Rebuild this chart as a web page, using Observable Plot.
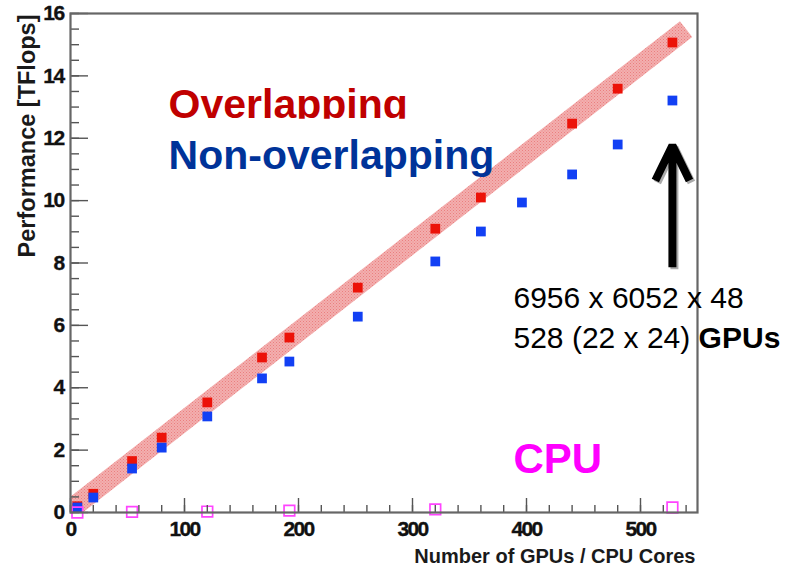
<!DOCTYPE html>
<html><head><meta charset="utf-8">
<script src="https://cdn.jsdelivr.net/npm/d3@7"></script>
<script src="https://cdn.jsdelivr.net/npm/@observablehq/plot@0.6"></script>
<style>
html,body{margin:0;padding:0;background:#fff;}
#chart{width:798px;height:570px;overflow:hidden;}
</style></head><body><div id="chart"></div>
<script>
// ---- data ----
const gpuCounts       = [6, 20, 54, 80, 120, 168, 192, 252, 320, 360, 440, 480, 528];
const overlapping     = [0.2, 0.6, 1.65, 2.4, 3.53, 4.97, 5.61, 7.21, 9.1, 10.1, 12.47, 13.59, 15.07];
const nonOverlapCounts = [6, 20, 54, 80, 120, 168, 192, 252, 320, 360, 396, 440, 480, 528];
const nonOverlapping  = [0.16, 0.48, 1.41, 2.08, 3.08, 4.3, 4.84, 6.28, 8.05, 9.01, 9.94, 10.84, 11.8, 13.21];
const cpuCores        = [6, 54, 120, 192, 320, 528];
const cpuPerf         = [0, 0.02, 0.03, 0.06, 0.1, 0.16];
const idealX          = [0, 540];
const idealY          = [0.1, 15.5];
const xTicks          = [0, 100, 200, 300, 400, 500];
const xMinorTicks     = d3.range(0, 551, 20);
const yTicks          = [0, 2, 4, 6, 8, 10, 12, 14, 16];
const yMinorTicks     = d3.range(0, 16.01, 0.5);
const xTitle = "Number of GPUs / CPU Cores";
const yTitle = "Performance [TFlops]";
const noteText = ["Overlapping", "Non-overlapping", "6956 x 6052 x 48", "528 (22 x 24)", "CPU"];
const noteX    = [86, 86, 388.6, 388.6, 388.6];
const noteY    = [12.66, 11.03, 6.57, 5.29, 1.28];
const arrowX = 528, arrowFrom = 7.86, arrowTo = 11.77;

const ovData = gpuCounts.map((x, i) => ({x, y: overlapping[i]}));
const noData = nonOverlapCounts.map((x, i) => ({x, y: nonOverlapping[i]}));
const cpuData = cpuCores.map((x, i) => ({x, y: cpuPerf[i]}));
const ideal = idealX.map((x, i) => ({x, y: idealY[i]}));
const notes = noteText.map((t, i) => ({t, x: noteX[i], y: noteY[i]}));
const arrows = [{x: arrowX, y1: arrowFrom, y2: arrowTo}];

const F = "'Liberation Sans', Arial, Helvetica, sans-serif";

const note = (i, opts) => Plot.text([notes[i]], {x: "x", y: "y", text: "t", textAnchor: "start", lineAnchor: "bottom", fontFamily: F, ...opts});

const chart = Plot.plot({
  width: 798, height: 570,
  marginLeft: 70, marginRight: 101, marginTop: 13, marginBottom: 58,
  x: {domain: [0, 550]},
  y: {domain: [0, 16]},
  style: {fontFamily: F, background: "#fff", overflow: "visible"},
  marks: [
    Plot.line(ideal, {x: "x", y: "y", stroke: "url(#hatch)", strokeWidth: 20, strokeLinecap: "butt", clip: true}),
    Plot.dot(ovData, {x: "x", y: "y", symbol: "square", r: 5.5, fill: "#ec1208"}),
    Plot.dot(noData, {x: "x", y: "y", symbol: "square", r: 5.5, fill: "#1240f4"}),
    Plot.dot(cpuData, {x: "x", y: "y", symbol: "square", r: 6, fill: "none", stroke: "#ff44ff", strokeWidth: 1.7}),
    // ticks (inward)
    Plot.axisX(xMinorTicks, {tickSize: -7, fill: "none", label: null, stroke: "#555", strokeWidth: 1.4}),
    Plot.axisX(xTicks, {tickSize: -14, fill: "none", label: null, stroke: "#555", strokeWidth: 1.4}),
    Plot.axisY(yMinorTicks, {tickSize: -9, fill: "none", label: null, stroke: "#555", strokeWidth: 1.4}),
    Plot.axisY(yTicks, {tickSize: -18, fill: "none", label: null, stroke: "#555", strokeWidth: 1.4}),
    // tick labels
    Plot.axisX(xTicks, {tickSize: 0, tickPadding: 9, label: null, fontSize: 21, fontWeight: "bold", fill: "#111"}),
    Plot.axisY(yTicks, {tickSize: 0, tickPadding: 7, label: null, fontSize: 21, fontWeight: "bold", fill: "#111"}),
    Plot.frame({stroke: "#666", strokeWidth: 2.2}),
    // axis titles
    Plot.text([xTitle], {text: d => d, frameAnchor: "bottom-right", textAnchor: "end", lineAnchor: "bottom", dx: -2, dy: 50, fontSize: 20, fontWeight: "bold", fontFamily: F, fill: "#1a1a1a"}),
    Plot.text([yTitle], {text: d => d, frameAnchor: "top-left", rotate: -90, textAnchor: "end", dx: -52, dy: 1, fontSize: 23.5, fontWeight: "bold", fontFamily: F, fill: "#1a1a1a"}),
    // annotations
    note(0, {fill: "#c00000", fontSize: 41, fontWeight: "bold"}),
    note(1, {fill: "#003399", fontSize: 41, fontWeight: "bold"}),
    note(2, {fill: "#000", fontSize: 30}),
    note(3, {fill: "#000", fontSize: 30}),
    note(4, {fill: "#ff00ff", fontSize: 42, fontWeight: "bold"}),
    Plot.arrow(arrows, {x: "x", y1: "y1", x2: "x", y2: "y2", dx: 2, dy: 2, stroke: "#aaa", strokeWidth: 8, headLength: 7.3, headAngle: 52, strokeLinejoin: "miter", strokeLinecap: "butt"}),
    Plot.arrow(arrows, {x: "x", y1: "y1", x2: "x", y2: "y2", stroke: "#000", strokeWidth: 8, headLength: 7.3, headAngle: 52, strokeLinejoin: "miter", strokeLinecap: "butt"})
  ]
});

const svgEl = chart.tagName.toLowerCase() === "svg" ? chart : chart.querySelector("svg");
const svg = d3.select(svgEl);
const defs = svg.insert("defs", ":first-child");
const pat = defs.append("pattern").attr("id", "hatch").attr("patternUnits", "userSpaceOnUse").attr("width", 3).attr("height", 3);
pat.append("rect").attr("width", 3).attr("height", 3).attr("fill", "#f9e0e0");
pat.append("path").attr("d", "M0,0L3,3M3,0L0,3").attr("stroke", "#e03c3c").attr("stroke-width", 0.6);
defs.append("clipPath").attr("id", "clipOver").append("rect").attr("x", -100).attr("y", -200).attr("width", 800).attr("height", 201);

// bold, slightly condensed tick labels like the ROOT original
const tickVals = new Set([...xTicks, ...yTicks].map(String));
svg.selectAll("text").each(function() {
  const t = this.textContent;
  const isTick = this.childElementCount === 0 && tickVals.has(t) && this.closest('g[aria-label*="tick"]');
  if (isTick) {
    d3.select(this).style("font-weight", "bold").style("letter-spacing", "-1.6px")
      .style("stroke", "#111").style("stroke-width", "0.35px");
  }
  if (t === noteText[0]) d3.select(this).attr("clip-path", "url(#clipOver)");
  if (t === noteText[3]) {
    d3.select(this).attr("xml:space", "preserve").append("tspan").attr("font-weight", "bold").text(" GPUs");
  }
});

document.getElementById("chart").appendChild(chart);
</script>
</body></html>
